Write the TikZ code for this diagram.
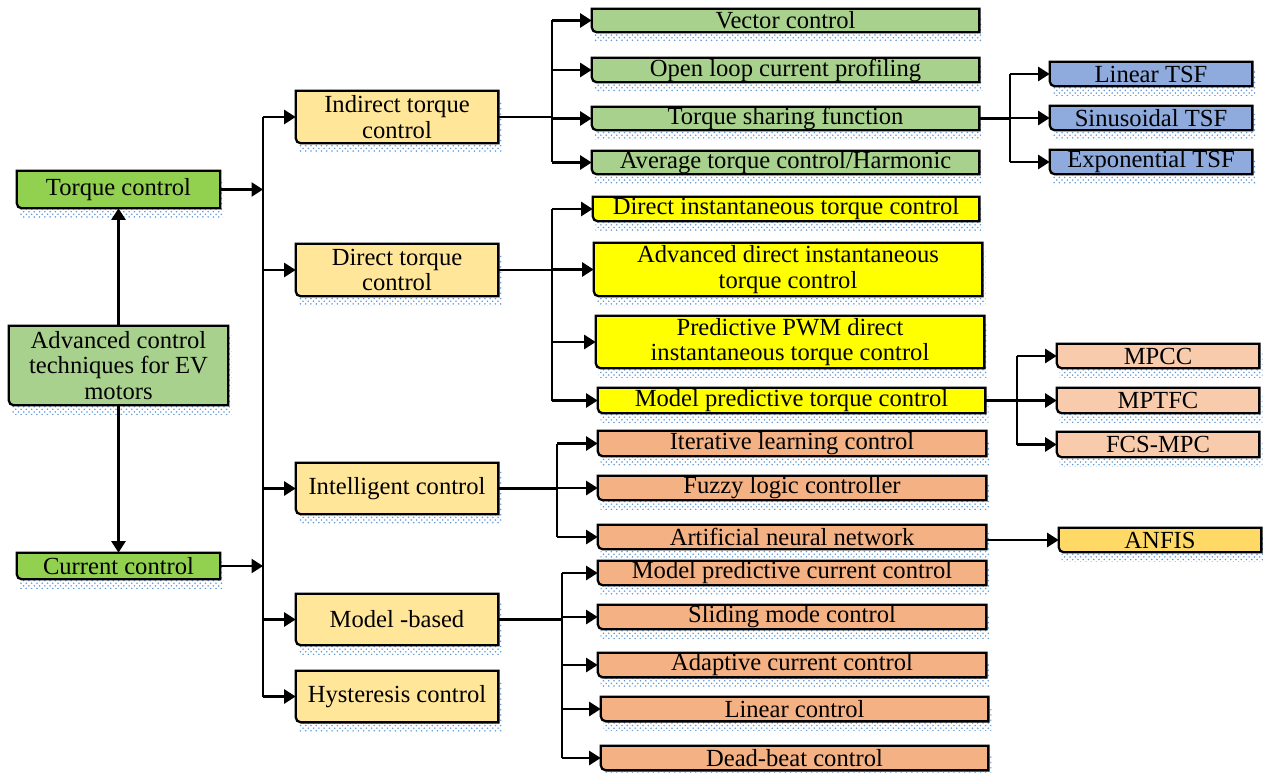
\documentclass[tikz,border=0pt]{standalone}
\usepackage{fontspec}
\setmainfont{Liberation Serif}
\usepackage{tikz}
\usetikzlibrary{arrows.meta,positioning,backgrounds,patterns,calc}

\definecolor{cLime}{RGB}{146,208,80}
\definecolor{cLeaf}{RGB}{169,209,142}
\definecolor{cSand}{RGB}{255,230,153}
\definecolor{cSky}{RGB}{143,170,220}
\definecolor{cLemon}{RGB}{255,255,0}
\definecolor{cPeach}{RGB}{248,203,173}
\definecolor{cCoral}{RGB}{244,177,131}
\definecolor{cGold}{RGB}{255,217,102}
\definecolor{cShadow}{RGB}{100,155,215}

\tikzset{
  box/.style={inner sep=0pt, align=center, font=\fontsize{14}{14.5}\selectfont},
  sz/.style 2 args={minimum width=#1*0.02cm, minimum height=#2*0.02cm},
  line/.style={line width=1.2pt},
  arr/.style={line, -{Triangle[length=6.5pt,width=8pt]}},
  shade/.style={pattern=crosshatch dots, pattern color=cShadow},
  outline/.style={line width=1.3pt, draw=black},
}

\begin{document}
\begin{tikzpicture}[x=0.02cm, y=-0.02cm]
  \useasboundingbox (0,0) rectangle (1263,773);

  % left column
  \node[box, sz={203}{37}] (torque) at (118.5,189.5) {Torque control};
  \node[box, sz={219}{79}] (adv) at (118.5,365.5) {Advanced control\\techniques for EV\\motors};
  \node[box, sz={203}{26}] (current) at (118.5,566) {Current control};

  % second level
  \node[box, sz={202}{52}] (itc) at (397,117) {Indirect torque\\control};
  \node[box, sz={202}{52}] (dtc) at (397,270) {Direct torque\\control};
  \node[box, sz={202}{51}] (ic) at (397,488.5) {Intelligent control};
  \node[box, sz={202}{51}] (mb) at (397,619.5) {Model -based};
  \node[box, sz={202}{51}] (hc) at (397,696.5) {Hysteresis control};

  % indirect torque control
  \node[box, sz={387}{23}] (vec) at (785.5,20.5) {Vector control};
  \node[box, sz={387}{24}] (olcp) at (785.5,70) {Open loop current profiling};
  \node[box, sz={387}{23}] (tsf) at (785.5,118.5) {Torque sharing function};
  \node[box, sz={387}{23}] (atc) at (785.5,162.5) {Average torque control/Harmonic};
  \node[box, sz={202}{24}] (lintsf) at (1151,74) {Linear TSF};
  \node[box, sz={202}{24}] (sintsf) at (1151,118) {Sinusoidal TSF};
  \node[box, sz={202}{24}] (exptsf) at (1151,162) {Exponential TSF};

  % direct torque control
  \node[box, sz={386}{24}] (dit) at (786,209) {Direct instantaneous torque control};
  \node[box, sz={388}{53}] (adit) at (788,269.5) {Advanced direct instantaneous\\torque control};
  \node[box, sz={388}{52}] (ppwm) at (790,342) {Predictive PWM direct\\instantaneous torque control};
  \node[box, sz={387}{25}] (mptc) at (791.5,400.5) {Model predictive torque control};
  \node[box, sz={202}{24}] (mpcc) at (1158,356) {MPCC};
  \node[box, sz={202}{25}] (mptfc) at (1158,400.5) {MPTFC};
  \node[box, sz={202}{25}] (fcs) at (1158,444.5) {FCS-MPC};

  % intelligent control
  \node[box, sz={388}{25}] (ilc) at (792,443.5) {Iterative learning control};
  \node[box, sz={388}{24}] (flc) at (792,488) {Fuzzy logic controller};
  \node[box, sz={388}{24}] (ann) at (792,537) {Artificial neural network};
  \node[box, sz={202}{24}] (anfis) at (1160,540) {ANFIS};

  % model based
  \node[box, sz={388}{24}] (mpcurr) at (792,573) {Model predictive current control};
  \node[box, sz={388}{24}] (smc) at (792,617) {Sliding mode control};
  \node[box, sz={388}{24}] (acc) at (792,665) {Adaptive current control};
  \node[box, sz={387}{24}] (linc) at (794.5,709) {Linear control};
  \node[box, sz={387}{24}] (dbc) at (794.5,758) {Dead-beat control};

  % bus lines
  \coordinate (mainbus) at (263,0);
  \coordinate (busA) at (552,0);
  \coordinate (busB) at (552,0);
  \coordinate (busC) at (1010,0);
  \coordinate (busD) at (1017,0);
  \coordinate (busE) at (557,0);
  \coordinate (busF) at (562,0);

  % connectors
  \draw[arr] (adv.north) -- (torque.south);
  \draw[arr] (adv.south) -- (current.north);
  \draw[arr] (torque.east) -- (torque.east -| mainbus);
  \draw[arr] (current.east) -- (current.east -| mainbus);
  \draw[line] (itc.west -| mainbus) -- (hc.west -| mainbus);
  \foreach \c in {itc,dtc,ic,mb,hc}
    \draw[arr] (\c.west -| mainbus) -- (\c.west);

  \draw[line] (itc.east) -- (itc.east -| busA);
  \draw[line] (vec.west -| busA) -- (atc.west -| busA);
  \foreach \c in {vec,olcp,tsf,atc}
    \draw[arr] (\c.west -| busA) -- (\c.west);

  \draw[line] (tsf.east) -- (tsf.east -| busC);
  \draw[line] (lintsf.west -| busC) -- (exptsf.west -| busC);
  \foreach \c in {lintsf,sintsf,exptsf}
    \draw[arr] (\c.west -| busC) -- (\c.west);

  \draw[line] (dtc.east) -- (dtc.east -| busB);
  \draw[line] (dit.west -| busB) -- (mptc.west -| busB);
  \foreach \c in {dit,adit,ppwm,mptc}
    \draw[arr] (\c.west -| busB) -- (\c.west);

  \draw[line] (mptc.east) -- (mptc.east -| busD);
  \draw[line] (mpcc.west -| busD) -- (fcs.west -| busD);
  \foreach \c in {mpcc,mptfc,fcs}
    \draw[arr] (\c.west -| busD) -- (\c.west);

  \draw[line] (ic.east) -- (ic.east -| busE);
  \draw[line] (ilc.west -| busE) -- (ann.west -| busE);
  \foreach \c in {ilc,flc,ann}
    \draw[arr] (\c.west -| busE) -- (\c.west);
  \draw[arr] (ann.east |- anfis.west) -- (anfis.west);

  \draw[line] (mb.east) -- (mb.east -| busF);
  \draw[line] (mpcurr.west -| busF) -- (dbc.west -| busF);
  \foreach \c in {mpcurr,smc,acc,linc,dbc}
    \draw[arr] (\c.west -| busF) -- (\c.west);

  % boxes and dotted shadows behind the text
  \begin{scope}[on background layer]
    \foreach \n/\c in {torque/cLime, adv/cLeaf, current/cLime,
        itc/cSand, dtc/cSand, ic/cSand, mb/cSand, hc/cSand,
        vec/cLeaf, olcp/cLeaf, tsf/cLeaf, atc/cLeaf,
        lintsf/cSky, sintsf/cSky, exptsf/cSky,
        dit/cLemon, adit/cLemon, ppwm/cLemon, mptc/cLemon,
        mpcc/cPeach, mptfc/cPeach, fcs/cPeach,
        ilc/cCoral, flc/cCoral, ann/cCoral, anfis/cGold,
        mpcurr/cCoral, smc/cCoral, acc/cCoral, linc/cCoral, dbc/cCoral}{
      \fill[shade] ([shift={(3,9)}]\n.south west) rectangle ([shift={(3,9)}]\n.north east);
      \draw[outline, fill=\c] (\n.north west) -- (\n.north east) -- (\n.south east)
        -- ([xshift=3pt]\n.south west) arc[start angle=270, end angle=180, radius=3pt] -- cycle;
    }
  \end{scope}
\end{tikzpicture}
\end{document}
